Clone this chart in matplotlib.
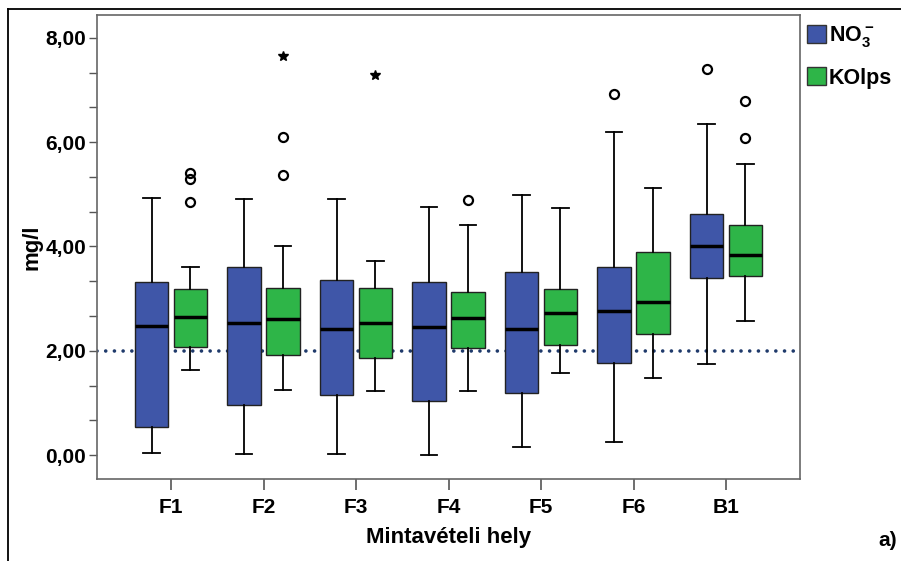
import matplotlib
matplotlib.use("Agg")
import matplotlib.pyplot as plt
import numpy as np
from matplotlib.patches import Patch
from matplotlib.lines import Line2D
from matplotlib.ticker import MultipleLocator

plt.rcParams['font.family'] = ['Liberation Sans', 'DejaVu Sans']
plt.rcParams['font.weight'] = 'bold'
plt.rcParams['mathtext.fontset'] = 'custom'
plt.rcParams['mathtext.rm'] = 'Liberation Sans:bold'
plt.rcParams['mathtext.bf'] = 'Liberation Sans:bold'

sites = ['F1', 'F2', 'F3', 'F4', 'F5', 'F6', 'B1']

# NO3- : whisker low, Q1, median, Q3, whisker high
no3_wlo = [0.04, 0.01, 0.01, 0.00, 0.15, 0.25, 1.75]
no3_q1 = [0.54, 0.95, 1.15, 1.04, 1.18, 1.76, 3.40]
no3_med = [2.48, 2.53, 2.42, 2.46, 2.41, 2.77, 4.01]
no3_q3 = [3.31, 3.61, 3.35, 3.31, 3.51, 3.61, 4.62]
no3_whi = [4.93, 4.91, 4.91, 4.75, 4.99, 6.20, 6.35]
no3_out = [[], [], [], [], [], [6.93], [7.40]]
no3_ext = [[], [], [], [], [], [], []]

# KOIps
koi_wlo = [1.63, 1.24, 1.23, 1.23, 1.58, 1.47, 2.58]
koi_q1 = [2.08, 1.91, 1.86, 2.05, 2.11, 2.32, 3.44]
koi_med = [2.64, 2.60, 2.54, 2.63, 2.73, 2.94, 3.84]
koi_q3 = [3.18, 3.21, 3.21, 3.12, 3.18, 3.89, 4.41]
koi_whi = [3.61, 4.01, 3.73, 4.41, 4.73, 5.12, 5.59]
koi_out = [[4.86, 5.30, 5.41], [5.37, 6.10], [], [4.89], [], [], [6.09, 6.80]]
koi_ext = [[], [7.66], [7.28], [], [], [], []]

limit_value = 2.0

fig = plt.figure(figsize=(9.01, 5.61), dpi=100)
ax = fig.add_axes([97 / 901, 1 - 479 / 561, 703 / 901, 464 / 561])

x = np.arange(1, len(sites) + 1)
offset = 0.21
width = 0.36


def make_stats(wlo, q1, med, q3, whi, out):
    return [dict(whislo=a, q1=b, med=c, q3=d, whishi=e, fliers=f)
            for a, b, c, d, e, f in zip(wlo, q1, med, q3, whi, out)]


# 2 mg/l limit as a dotted line
ax.axhline(limit_value, color='#1f3a6b', linestyle=(0, (0.01, 2.4)),
           linewidth=2.6, dash_capstyle='round', zorder=1)

groups = [
    (make_stats(no3_wlo, no3_q1, no3_med, no3_q3, no3_whi, no3_out), x - offset, '#3f56a8', no3_ext),
    (make_stats(koi_wlo, koi_q1, koi_med, koi_q3, koi_whi, koi_out), x + offset, '#2eb548', koi_ext),
]

for stats, pos, color, ext in groups:
    ax.bxp(stats, positions=pos, widths=width, capwidths=0.18,
           patch_artist=True, manage_ticks=False,
           boxprops=dict(facecolor=color, edgecolor='#222222', linewidth=1.0),
           medianprops=dict(color='black', linewidth=2.5),
           whiskerprops=dict(color='black', linewidth=1.3),
           capprops=dict(color='black', linewidth=1.3),
           flierprops=dict(marker='o', markersize=6.5, markerfacecolor='none',
                           markeredgecolor='black', markeredgewidth=1.6))
    # extreme values as stars
    for p, vals in zip(pos, ext):
        if vals:
            ax.plot([p] * len(vals), vals, linestyle='none', marker='*',
                    markersize=7.5, color='black')

ax.set_xlim(0.2, 7.8)
ax.set_ylim(-0.46, 8.44)
ax.set_xticks(x)
ax.set_xticklabels(sites, fontsize=15, fontweight='bold')
ax.set_yticks(np.arange(0, 9, 2))
ax.yaxis.set_major_formatter(plt.FuncFormatter(lambda v, p: ('%.2f' % v).replace('.', ',')))
ax.yaxis.set_minor_locator(MultipleLocator(2 / 3))
ax.tick_params(axis='y', which='both', length=6, width=1, color='#555555',
               labelsize=15, pad=2)
ax.tick_params(axis='x', length=8, width=1.2, color='#555555', labelsize=15, pad=6)
for lab in ax.get_yticklabels():
    lab.set_fontweight('bold')

for s in ax.spines.values():
    s.set_color('#666666')
    s.set_linewidth(1.2)

ax.set_xlabel('Mintavételi hely', fontsize=16, fontweight='bold', labelpad=7)
ax.set_ylabel('mg/l', fontsize=16, fontweight='bold', labelpad=2)

handles = [Patch(facecolor='#3f56a8', edgecolor='#333333'),
           Patch(facecolor='#2eb548', edgecolor='#333333')]
fig.legend(handles, [r'$\mathbf{NO_3^-}$', 'KOlps'], loc='upper left',
           bbox_to_anchor=(807 / 901, 1 - 24 / 561), frameon=False,
           borderpad=0, borderaxespad=0,
           handlelength=0.9, handleheight=0.9, handletextpad=0.12,
           labelspacing=0.85, prop=dict(size=15.5, weight='bold'))

fig.text(878 / 901, 1 - 540 / 561, 'a)', fontsize=15, fontweight='bold',
         ha='left', va='center')

# outer frame lines
fig.add_artist(Line2D([8 / 901, 8 / 901], [0, 1 - 9 / 561], transform=fig.transFigure,
                      color='black', linewidth=1.3))
fig.add_artist(Line2D([8 / 901, 1], [1 - 9 / 561, 1 - 9 / 561], transform=fig.transFigure,
                      color='black', linewidth=1.3))

fig.savefig('out.png', dpi=100)
